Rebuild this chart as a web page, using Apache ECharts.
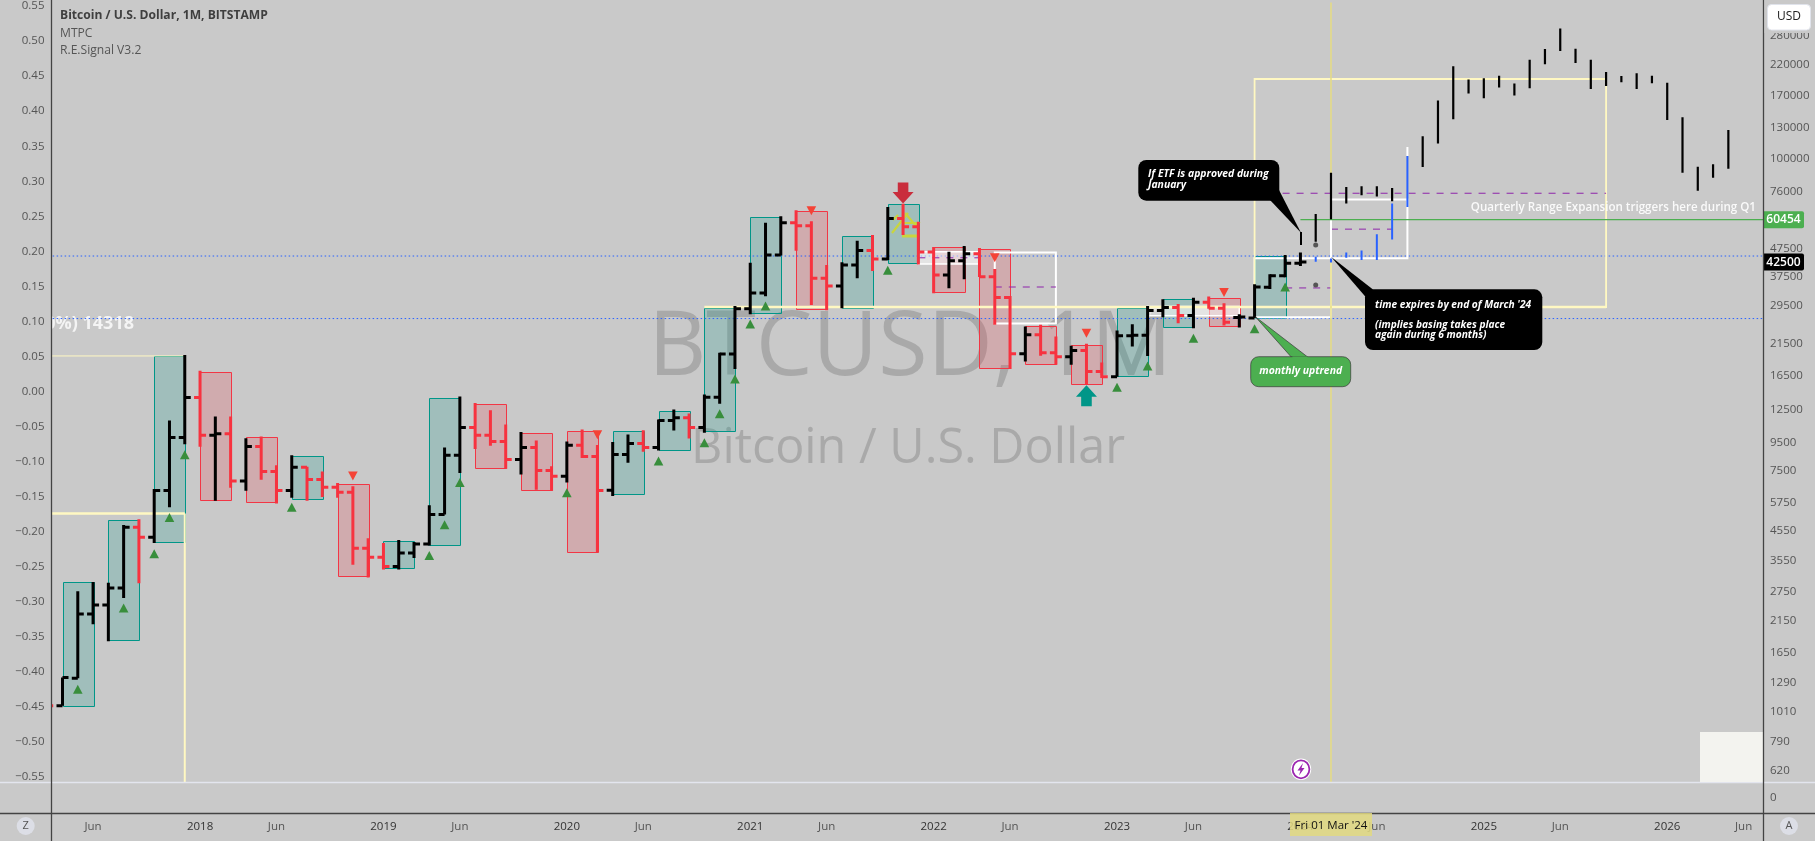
<!DOCTYPE html>
<html>
<head>
<meta charset="utf-8">
<title>BTCUSD 1M</title>
<script src="https://cdn.jsdelivr.net/npm/echarts@6/dist/echarts.min.js"></script>
<style>html,body{margin:0;padding:0;background:#c9c9c9}#c{width:1815px;height:841px}</style>
</head>
<body>
<div id="c"></div>
<script>
// ---- monthly bars (USD), first bar is firstMonth
const firstMonth = '2017-03';
const barOpen = [1190,1064,1337,2282,2458,2829,4689,4319,6369,9896,
  13782,10066,10210,6883,9182,7456,6369,7716,6981,6535,6280,3939,
  3658,3388,3786,4077,5212,8527,10752,10066,9558,8242,9108,7517,
  7165,9264,8451,6376,8592,9412,9106,11400,11650,10750,13820,19780,
  28810,32880,45060,58900,57450,37140,34850,41470,46840,43590,61060,56990,
  46190,38170,42990,45550,37650,31640,19840,23230,20000,19350,20400,17100,
  16400,23030,23130,28410,29130,27260,30440,28960,26800,26730,34500,37960,
  42050];
const barHigh = [1285,1345,2758,2978,2955,4775,5010,6443,11383,19650,
  17230,11780,11780,9838,9977,7848,8527,7762,7456,6782,6593,4282,
  4113,4221,4147,5632,9108,13904,13173,12405,11027,10354,9644,7783,
  9558,10562,9292,9519,10140,10510,11480,12480,12070,14130,20000,29530,
  42280,58900,62250,65420,59700,41470,42400,50740,53180,67240,69000,59380,
  48140,46320,48540,47750,40120,32080,24880,25230,22900,21200,21560,18460,
  24070,25360,29530,31200,30010,31630,31910,30190,27570,35340,38390,45050,
  46050];
const barLow = [900,1064,1337,2094,1820,2604,2945,4113,5537,9347,
  9160,5846,6516,6354,6960,5714,5999,5846,6032,5999,3434,3091,
  3302,3302,3636,4031,5212,7370,8980,9237,7630,7266,6406,6354,
  6804,8334,3807,6085,8016,8783,8883,10480,9810,10280,13080,17480,
  27550,31990,44900,46710,29770,28480,28970,37140,39450,43230,53180,41700,
  32790,34180,36840,37550,25230,17480,18610,19520,18110,18110,15340,16220,
  16400,21080,19460,26890,25570,24540,28820,25100,24680,26730,33990,37440,
  41130];
const barClose = [1064,1345,2282,2458,2829,4689,4319,6369,9896,13782,
  10066,10210,6883,9182,7456,6369,7716,6981,6535,6280,3939,3658,
  3388,3786,4077,5212,8527,10752,10066,9558,8242,9108,7517,7165,
  9264,8451,6369,8592,9412,9106,11400,11650,10750,13820,19780,28810,
  32880,45060,58900,57450,37140,34850,41470,46840,43590,61060,56990,46190,
  38170,42990,45550,37650,31640,19840,23230,20000,19350,20400,17100,16400,
  23030,23130,28410,29130,27260,30440,28960,25790,26950,34560,37960,42050,
  42500];

// ---- projected path (high/low only)
const projMonths = ['2024-02','2024-03','2024-04','2024-05','2024-06','2024-07','2024-09','2024-10','2024-11','2024-12',
  '2025-01','2025-02','2025-03','2025-04','2025-05','2025-06','2025-07','2025-08','2025-09','2025-10','2025-11','2025-12',
  '2026-01','2026-02','2026-03','2026-04','2026-05'];
const projHigh = [63450,89360,79360,79800,79800,78710,121090,162800,216300,193700,
  195800,200200,187400,228600,249600,296300,250400,228600,206300,199600,204100,200200,
  188900,141700,93900,95760,127300];
const projLow = [50310,60700,69120,74070,73250,70470,93670,114000,139400,172500,
  165900,181300,169600,180200,219900,245500,222300,179200,183700,189400,179200,187800,
  138600,89340,76950,85710,92350];
const blueMonths = ['2024-02','2024-03','2024-04','2024-05','2024-06','2024-07','2024-08'];
const blueHigh = [44440,43830,46060,46820,53620,69120,102600];
const blueLow = [42630,42390,44070,43220,43220,51300,67240];
const whiteBarMonths = ['2024-08'];
const whiteBarHigh = [110540];
const whiteBarLow = [102600];

// ---- quarterly range boxes
const boxStart = ['2017-04','2017-07','2017-10','2018-01','2018-04','2018-07','2018-10','2019-01','2019-04','2019-07','2019-10',
  '2020-01','2020-04','2020-07','2020-10','2021-01','2021-04','2021-07','2021-10','2022-01','2022-04','2022-07','2022-10',
  '2023-01','2023-04','2023-07','2023-10'];
const boxHigh = [2978,4967,19480,17085,9896,8451,6705,4171,13782,13093,10300,
  10476,10420,12370,28970,61730,64880,52730,68750,48010,47360,25020,21370,
  28970,31290,31630,44690];
const boxLow = [1064,1837,4147,5899,5763,5899,3118,3327,4067,7694,6406,
  3831,6170,8956,10400,27860,28800,28970,42170,33150,17620,18260,15430,
  16490,24820,25020,26800];
const boxDirection = ['up','up','up','down','down','up','down','up','up','down','down',
  'down','up','up','up','up','down','up','up','down','down','down','down',
  'up','up','down','up'];

// ---- signal triangles
const signalMonths = ['2017-05','2017-08','2017-10','2017-11','2017-12','2018-07','2019-04','2019-05','2019-06','2020-01','2020-07',
  '2020-10','2020-11','2020-12','2021-01','2021-02','2021-10','2023-01','2023-03','2023-06','2023-10','2023-12',
  '2018-11','2020-03','2021-05','2022-05','2022-11','2023-08'];
const signalPrice = [1220,2396,3764,5084,8576,5537,3710,4786,6804,6244,8130,
  9460,12040,16090,25430,29530,39680,15010,17910,22580,24410,34560,
  7180,10120,65060,44070,23540,32980];
const signalDirection = ['up','up','up','up','up','up','up','up','up','up','up',
  'up','up','up','up','up','up','up','up','up','up','up',
  'down','down','down','down','down','down'];

// ---- big arrows and pivot dots
const arrowMonths = ['2021-11','2022-11'];
const arrowPrice = [69130,15260];
const arrowDirection = ['down','up'];
const dotMonths = ['2024-02','2024-02'];
const dotPrice = [48950,35140];

// ---- drawn levels and rectangles, in paint order
const overlayKind = ['blue','blue','whiteBand','whiteBand','whiteBox','whiteBox',
  'purple','purple','purple','purple',
  'yellowThin','yellowThick','yellowV','yellowBox','yellowThick','cross','whiteBox','green'];
const overlayStart = ['2017-01','2017-01','2021-12','2023-03','2022-05','2023-10',
  '2021-12','2022-05','2023-12','2024-03',
  '2017-01','2017-01','2017-12','2023-10','2020-10','2024-03','2024-03','2024-01'];
const overlayEnd = ['2026-09','2026-09','2022-04','2023-09','2022-09','2024-03',
  '2022-04','2022-09','2024-03','2024-07',
  '2017-12','2017-12','2017-12','2025-09','2025-09','2024-03','2024-08','2026-09'];
const overlayHigh = [44700,26580,46320,29380,46060,43840,
  44050,34550,34280,55890,
  19480,5258,5258,194700,29250,400000,71450,60454];
const overlayLow = [44700,26580,41820,27190,25510,26890,
  44050,34550,34280,55890,
  19480,5258,562.5,29250,29250,562.5,43840,60454];
const overlayExtra = [['2023-10','2025-09',75320]]; // long dashed level

// ---- axes
const priceTicks = [280000,220000,170000,130000,100000,76000,47500,37500,29500,21500,16500,12500,9500,7500,5750,4550,3550,2750,2150,1650,1290,1010,790,620];
const signalTicks = [0.55,0.5,0.45,0.4,0.35,0.3,0.25,0.2,0.15,0.1,0.05,0,-0.05,-0.1,-0.15,-0.2,-0.25,-0.3,-0.35,-0.4,-0.45,-0.5,-0.55];
const timeTickMonths = ['2017-06','2018-01','2018-06','2019-01','2019-06','2020-01','2020-06','2021-01','2021-06','2022-01','2022-06','2023-01','2023-06','2024-01','2024-06','2025-01','2025-06','2026-01','2026-06'];
const timeTickLabels = ['Jun','2018','Jun','2019','Jun','2020','Jun','2021','Jun','2022','Jun','2023','Jun','2024','Jun','2025','Jun','2026','Jun'];
const priceBadges = [60454,42500];
const badgeKind = ['green','black'];

// ---- helpers
const FONT = '"Open Sans","Noto Sans",sans-serif';
function m(s){const a=s.split('-');return (+a[0]-2018)*12+(+a[1]-1);}
const first = m(firstMonth);
const barData = barOpen.map((o,i)=>[first+i,o,barHigh[i],barLow[i],barClose[i]]);
const RED='#f7323f', BLACK='#000', CREAM='#fff8c2', PURPLE='#8e24aa', BLUE='#2962ff';

function renderBar(p,api){
  const x=api.value(0),o=api.coord([x,api.value(1)]),h=api.coord([x,api.value(2)]),l=api.coord([x,api.value(3)]),c=api.coord([x,api.value(4)]);
  const col=api.value(4)>=api.value(1)?BLACK:RED;
  return {type:'group',children:[
    {type:'rect',shape:{x:h[0]-1.5,y:h[1],width:3,height:l[1]-h[1]},style:{fill:col}},
    {type:'rect',shape:{x:o[0]-6,y:o[1]-1.5,width:6,height:3},style:{fill:col}},
    {type:'rect',shape:{x:c[0],y:c[1]-1.5,width:6,height:3},style:{fill:col}}
  ]};
}
function vbar(color,width){
  return function(p,api){
    const h=api.coord([api.value(0),api.value(1)]),l=api.coord([api.value(0),api.value(2)]);
    return {type:'rect',shape:{x:h[0]-width/2,y:h[1],width:width,height:l[1]-h[1]},style:{fill:color}};
  };
}
function renderBox(p,api){
  const a=api.coord([api.value(0),api.value(2)]),b=api.coord([api.value(1),api.value(3)]);
  const up=boxDirection[p.dataIndex]==='up';
  return {type:'rect',shape:{x:Math.round(a[0])+.5,y:Math.round(a[1])+.5,width:Math.round(b[0]-a[0]),height:Math.round(b[1]-a[1])},
    style:{fill:up?'rgba(0,150,136,0.2)':'rgba(242,54,69,0.2)',stroke:up?'#009688':'#f23645',lineWidth:1}};
}
function renderSignal(p,api){
  const c=api.coord([api.value(0),api.value(1)]),up=signalDirection[p.dataIndex]==='up',w=4.8,h=4.5;
  const pts=up?[[c[0]-w,c[1]+h],[c[0]+w,c[1]+h],[c[0],c[1]-h]]:[[c[0]-w,c[1]-h],[c[0]+w,c[1]-h],[c[0],c[1]+h]];
  return {type:'polygon',shape:{points:pts},style:{fill:up?'#388e3c':'#f44336'}};
}
function renderArrow(p,api){
  const c=api.coord([api.value(0),api.value(1)]),d=arrowDirection[p.dataIndex]==='down'?-1:1;
  const x=c[0],y=c[1];
  return {type:'polygon',shape:{points:[[x,y],[x+10.5,y+d*11.5],[x+5.3,y+d*11.5],[x+5.3,y+d*21],[x-5.3,y+d*21],[x-5.3,y+d*11.5],[x-10.5,y+d*11.5]]},
    style:{fill:d<0?'#c92d3c':'#009688'}};
}
function renderDot(p,api){
  const c=api.coord([api.value(0),api.value(1)]);
  return {type:'circle',shape:{cx:c[0],cy:c[1],r:2.5},style:{fill:'#555'}};
}
const lineStyles={
  blue:{stroke:BLUE,lineWidth:1,lineDash:[1.5,2.5]},
  purple:{stroke:PURPLE,lineWidth:1,lineDash:[7,7]},
  yellowThin:{stroke:CREAM,lineWidth:1},
  yellowThick:{stroke:CREAM,lineWidth:2.6},
  yellowV:{stroke:CREAM,lineWidth:2},
  cross:{stroke:'#e6dc82',lineWidth:1.5},
  green:{stroke:'#4caf50',lineWidth:1.2}
};
const rectStyles={
  whiteBand:{fill:'rgba(255,255,255,0.5)',stroke:'#fff',lineWidth:1.5},
  whiteBox:{fill:'none',stroke:'#fff',lineWidth:2},
  yellowBox:{fill:'none',stroke:CREAM,lineWidth:1.8}
};
function renderOverlay(p,api){
  const kind=overlayKind[p.dataIndex];
  const a=api.coord([api.value(0),api.value(2)]),b=api.coord([api.value(1),api.value(3)]);
  if(rectStyles[kind]) return {type:'rect',shape:{x:a[0],y:a[1],width:b[0]-a[0],height:b[1]-a[1]},style:rectStyles[kind]};
  return {type:'line',shape:{x1:a[0],y1:a[1],x2:b[0],y2:b[1]},style:lineStyles[kind]};
}
function renderExtra(p,api){
  const a=api.coord([api.value(0),api.value(2)]),b=api.coord([api.value(1),api.value(2)]);
  return {type:'line',shape:{x1:a[0],y1:a[1],x2:b[0],y2:b[1]},style:lineStyles.purple};
}
function renderBadge(p,api){
  const c=api.coord([api.value(0),api.value(1)]),k=badgeKind[p.dataIndex];
  return {type:'group',children:[
    {type:'rect',shape:{x:c[0],y:c[1]-8.5,width:41,height:17,r:[0,2,2,0]},style:{fill:k==='green'?'#4caf50':'#000'}},
    {type:'text',style:{x:c[0]+20.5,y:c[1],text:String(api.value(1)),fill:'#fff',font:'600 12px '+FONT,align:'center',verticalAlign:'middle'}}
  ]};
}
function customSeries(name,data,render,z,clip,enc){
  return {name:name,type:'custom',xAxisIndex:0,yAxisIndex:0,data:data,renderItem:render,z:z,clip:clip!==false,silent:true,animation:false,encode:enc||{x:0,y:1}};
}

// ---- chrome (frame, notes, text)
const WM='rgba(95,95,95,0.3)';
const elements=[
  {type:'text',z:-6,silent:true,style:{x:910,y:349,text:'BTCUSD, 1M',fill:WM,font:'400 90px '+FONT,align:'center',verticalAlign:'middle'}},
  {type:'text',z:-6,silent:true,style:{x:908,y:449,text:'Bitcoin / U.S. Dollar',fill:WM,font:'400 48.5px '+FONT,align:'center',verticalAlign:'middle'}},
  {type:'text',z:-3,silent:true,style:{x:134,y:324,text:'0%) 14318',fill:'#f4f4f4',font:'700 18px '+FONT,align:'right',verticalAlign:'middle'}},
  {type:'rect',z:-2,silent:true,shape:{x:0,y:300,width:51,height:50},style:{fill:'#c9c9c9'}},
  {type:'text',z:60,silent:true,style:{x:60,y:16,text:'Bitcoin / U.S. Dollar, 1M, BITSTAMP',fill:'#3f3f3f',font:'700 12.1px '+FONT,verticalAlign:'middle'}},
  {type:'text',z:60,silent:true,style:{x:60,y:33.5,text:'MTPC',fill:'#555',font:'400 12.1px '+FONT,verticalAlign:'middle'}},
  {type:'text',z:60,silent:true,style:{x:60,y:50.7,text:'R.E.Signal V3.2',fill:'#555',font:'400 12.1px '+FONT,verticalAlign:'middle'}},
  // scribble on the Nov 2021 bar
  {type:'polyline',z:3,silent:true,shape:{points:[[892,233],[908,213]]},style:{stroke:'#c9d53d',lineWidth:2.2,fill:'none'}},
  {type:'polyline',z:3,silent:true,shape:{points:[[893,220],[898,215]]},style:{stroke:'#c9d53d',lineWidth:2.2,fill:'none'}},
  {type:'polyline',z:3,silent:true,shape:{points:[[905,213],[916,226]]},style:{stroke:'#c9d53d',lineWidth:2.2,fill:'none'}},
  {type:'polyline',z:3,silent:true,shape:{points:[[904,223],[918,223],[914,227]]},style:{stroke:'#c9d53d',lineWidth:2.2,fill:'none'}},
  {type:'polyline',z:3,silent:true,shape:{points:[[902,236],[917,236]]},style:{stroke:'#c9d53d',lineWidth:3,fill:'none'}},
  // frame
  {type:'line',z:50,silent:true,shape:{x1:0,y1:782.5,x2:1815,y2:782.5},style:{stroke:'#e3e5ee',lineWidth:1.3}},
  {type:'line',z:51,silent:true,shape:{x1:0,y1:813.5,x2:1815,y2:813.5},style:{stroke:'#434343',lineWidth:1.3}},
  {type:'line',z:51,silent:true,shape:{x1:51.5,y1:0,x2:51.5,y2:841},style:{stroke:'#434343',lineWidth:1.3}},
  {type:'line',z:51,silent:true,shape:{x1:1763.5,y1:0,x2:1763.5,y2:841},style:{stroke:'#434343',lineWidth:1.3}},
  {type:'rect',z:50,silent:true,shape:{x:1700,y:732,width:63,height:50},style:{fill:'#f3f3ef'}},
  {type:'rect',z:59,silent:true,shape:{x:1764.5,y:0,width:50.5,height:33},style:{fill:'#c9c9c9'}},
  {type:'rect',z:60,silent:true,shape:{x:1767.5,y:4.5,width:43,height:25.5,r:4},style:{fill:'#fff',stroke:'#e0e3eb',lineWidth:1}},
  {type:'text',z:61,silent:true,style:{x:1789,y:17,text:'USD',fill:'#222',font:'400 12px '+FONT,align:'center',verticalAlign:'middle'}},
  {type:'circle',z:60,silent:true,shape:{cx:25.7,cy:826,r:9},style:{fill:'#dcdee6'}},
  {type:'text',z:61,silent:true,style:{x:25.7,y:826,text:'Z',fill:'#555',font:'400 11px '+FONT,align:'center',verticalAlign:'middle'}},
  {type:'circle',z:60,silent:true,shape:{cx:1789,cy:826,r:9},style:{fill:'#dcdee6'}},
  {type:'text',z:61,silent:true,style:{x:1789,y:826,text:'A',fill:'#555',font:'400 11px '+FONT,align:'center',verticalAlign:'middle'}},
  // crosshair time label
  {type:'rect',z:60,silent:true,shape:{x:1290,y:813,width:82,height:23},style:{fill:'rgba(226,217,128,0.85)'}},
  {type:'text',z:61,silent:true,style:{x:1331,y:826,text:"Fri 01 Mar '24",fill:'#111',font:'400 11.5px '+FONT,align:'center',verticalAlign:'middle'}},
  // lightning marker
  {type:'ellipse',z:60,silent:true,shape:{cx:1301,cy:769.3,rx:10.2,ry:10.8},style:{fill:'#fff'}},
  {type:'ellipse',z:61,silent:true,shape:{cx:1301,cy:769.3,rx:8.4,ry:9},style:{fill:'#fff',stroke:'#9c27b0',lineWidth:1.8}},
  {type:'polygon',z:62,silent:true,shape:{points:[[1303,763],[1297.5,770.5],[1300.5,770.5],[1299,775.5],[1304.5,768],[1301.5,768]]},style:{fill:'#9c27b0'}},
  // callouts
  {type:'polygon',z:70,silent:true,shape:{points:[[1270,200],[1301,232.7],[1279,190]]},style:{fill:'#000'}},
  {type:'line',z:70,silent:true,shape:{x1:1301,y1:232,x2:1301,y2:245},style:{stroke:'#000',lineWidth:2}},
  {type:'rect',z:70,silent:true,shape:{x:1138.3,y:160,width:141,height:40.7,r:8},style:{fill:'#000'}},
  {type:'text',z:71,silent:true,style:{x:1148,y:174,text:'If ETF is approved during',fill:'#fff',font:'italic 700 10.4px '+FONT,verticalAlign:'middle'}},
  {type:'text',z:71,silent:true,style:{x:1148,y:185,text:'January',fill:'#fff',font:'italic 700 10.4px '+FONT,verticalAlign:'middle'}},
  {type:'polygon',z:70,silent:true,shape:{points:[[1365.7,297],[1331,256.7],[1373,289.5]]},style:{fill:'#000'}},
  {type:'rect',z:70,silent:true,shape:{x:1365,y:289.3,width:177.3,height:60.7,r:8},style:{fill:'#000'}},
  {type:'text',z:71,silent:true,style:{x:1375,y:304.7,text:"time expires by end of March '24",fill:'#fff',font:'italic 700 10.2px '+FONT,verticalAlign:'middle'}},
  {type:'text',z:71,silent:true,style:{x:1375,y:324.7,text:'(implies basing takes place',fill:'#fff',font:'italic 700 10.2px '+FONT,verticalAlign:'middle'}},
  {type:'text',z:71,silent:true,style:{x:1375,y:334.7,text:'again during 6 months)',fill:'#fff',font:'italic 700 10.2px '+FONT,verticalAlign:'middle'}},
  {type:'polygon',z:70,silent:true,shape:{points:[[1291.7,357.5],[1255.3,316.7],[1308.3,357.5]]},style:{fill:'#4caf50',stroke:'#3a3a3a',lineWidth:.7}},
  {type:'rect',z:71,silent:true,shape:{x:1250.7,y:356.7,width:100,height:30,r:8},style:{fill:'#4caf50',stroke:'#3a3a3a',lineWidth:.7}},
  {type:'polygon',z:72,silent:true,shape:{points:[[1292.4,356.5],[1307.5,356.5],[1307.5,358],[1292.4,358]]},style:{fill:'#4caf50'}},
  {type:'text',z:73,silent:true,style:{x:1300.7,y:370.7,text:'monthly uptrend',fill:'#fff',font:'italic 700 10.4px '+FONT,align:'center',verticalAlign:'middle'}},
  {type:'text',z:40,silent:true,style:{x:1756,y:207.7,text:'Quarterly Range Expansion triggers here during Q1',fill:'rgba(255,255,255,0.9)',font:'600 11.6px '+FONT,align:'right',verticalAlign:'middle'}}
];

const XMIN=(51.5-200.05)/15.283, XMAX=(1763-200.05)/15.283;
const timeMap={};timeTickMonths.forEach((t,i)=>timeMap[m(t)]=timeTickLabels[i]);

const chart=echarts.init(document.getElementById('c'),null,{renderer:'canvas'});
chart.setOption({
  animation:false,
  backgroundColor:'#c9c9c9',
  textStyle:{fontFamily:FONT},
  grid:[
    {left:51.5,width:1711.5,top:0,height:782.4,containLabel:false},
    {left:51.5,width:1711.5,top:782.4,height:31,containLabel:false}
  ],
  xAxis:[
    {type:'value',gridIndex:0,min:XMIN,max:XMAX,show:false},
    {type:'value',gridIndex:1,min:XMIN,max:XMAX,splitLine:{show:false},axisLine:{show:false},axisTick:{show:false},
     axisLabel:{customValues:timeTickMonths.map(m),margin:7,color:'#555',fontSize:11.5,fontFamily:FONT,hideOverlap:false,
       formatter:v=>{const t=timeMap[v];return t==='Jun'?t:'{y|'+t+'}';},rich:{y:{color:'#333',fontSize:11.5,fontWeight:500,fontFamily:FONT}}}}
  ],
  yAxis:[
    {type:'log',gridIndex:0,position:'right',min:562.5,max:367500,splitLine:{show:false},axisLine:{show:false},axisTick:{show:false},minorTick:{show:false},minorSplitLine:{show:false},
     axisLabel:{customValues:priceTicks,margin:7,color:'#555',fontSize:11.5,fontFamily:FONT,formatter:v=>String(Math.round(v)),hideOverlap:false}},
    {type:'value',gridIndex:0,position:'left',min:-0.5574,max:0.5549,splitLine:{show:false},axisLine:{show:false},axisTick:{show:false},
     axisLabel:{customValues:signalTicks,margin:7,color:'#555',fontSize:11.5,fontFamily:FONT,hideOverlap:false,formatter:v=>v.toFixed(2).replace('-','\u2212')}},
    {type:'value',gridIndex:1,position:'right',min:-1,max:1,splitLine:{show:false},axisLine:{show:false},axisTick:{show:false},
     axisLabel:{customValues:[0],margin:7,color:'#555',fontSize:11.5,fontFamily:FONT,formatter:v=>String(v)}}
  ],
  graphic:{elements:elements},
  series:[
    customSeries('Quarter ranges',boxStart.map((s,i)=>[m(s),m(s)+2,boxHigh[i],boxLow[i]]),renderBox,2,true,{x:[0,1],y:[2,3]}),
    customSeries('Levels',overlayKind.map((k,i)=>[m(overlayStart[i]),m(overlayEnd[i]),overlayHigh[i],overlayLow[i]]),renderOverlay,3,true,{x:[0,1],y:[2,3]}),
    customSeries('Long level',overlayExtra.map(r=>[m(r[0]),m(r[1]),r[2]]),renderExtra,3,true,{x:[0,1],y:2}),
    customSeries('Arrows',arrowMonths.map((s,i)=>[m(s),arrowPrice[i]]),renderArrow,4),
    customSeries('Signals',signalMonths.map((s,i)=>[m(s),signalPrice[i]]),renderSignal,4),
    customSeries('Dots',dotMonths.map((s,i)=>[m(s),dotPrice[i]]),renderDot,4),
    customSeries('Blue projection',blueMonths.map((s,i)=>[m(s),blueHigh[i],blueLow[i]]),vbar(BLUE,2),5,true,{x:0,y:[1,2]}),
    customSeries('White projection',whiteBarMonths.map((s,i)=>[m(s),whiteBarHigh[i],whiteBarLow[i]]),vbar('#fff',2),5,true,{x:0,y:[1,2]}),
    customSeries('Black projection',projMonths.map((s,i)=>[m(s),projHigh[i],projLow[i]]),vbar('#000',2.2),5,true,{x:0,y:[1,2]}),
    customSeries('BTCUSD',barData,renderBar,6,true,{x:0,y:[1,2,3,4]}),
    customSeries('Price badges',priceBadges.map(p=>[XMAX,p]),renderBadge,40,false)
  ]
});
</script>
</body>
</html>
